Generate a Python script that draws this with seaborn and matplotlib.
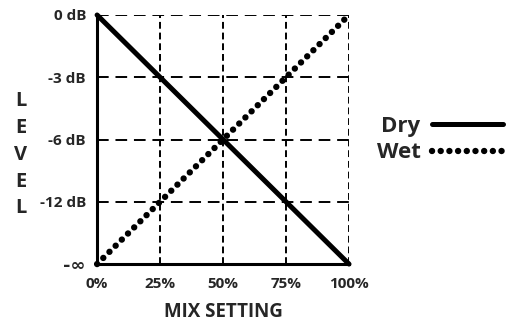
import matplotlib
matplotlib.use("Agg")
import matplotlib.pyplot as plt
import seaborn as sns
import pandas as pd

# mix setting (%) and level index for each series
mix = [0, 25, 50, 75, 100]
dry_level = [4, 3, 2, 1, 0]
wet_level = [0, 1, 2, 3, 4]
level_labels = ["-\u221e", "-12 dB", "-6 dB", "-3 dB", "0 dB"]
mix_labels = ["0%", "25%", "50%", "75%", "100%"]


def create_figure(df):
    sns.set_style("white")
    plt.rcParams["font.family"] = ["Open Sans", "DejaVu Sans"]
    fig = plt.figure(figsize=(5.11, 3.26), dpi=100)
    ax = fig.add_axes([0.190, 0.190, 0.493, 0.764])

    sns.lineplot(data=df, x="mix", y="dry", color="black", linewidth=3.6,
                 solid_capstyle="round", label="Dry", ax=ax, clip_on=False, zorder=5)
    sns.lineplot(data=df, x="mix", y="wet", color="black", linewidth=4.6,
                 linestyle=(0, (0.01, 1.35)), dash_capstyle="round",
                 label="Wet", ax=ax, clip_on=False, zorder=5)

    ax.set_xlim(0, 100)
    ax.set_ylim(0, 4)
    ax.set_xticks(mix)
    ax.set_xticklabels(mix_labels, fontsize=11, fontweight="bold")
    ax.set_yticks(range(len(level_labels)))
    ax.set_yticklabels(level_labels, fontsize=11, fontweight="bold")
    # the infinity sign is drawn large in the original
    inf_label = ax.get_yticklabels()[0]
    inf_label.set_fontfamily(["DejaVu Sans"])
    inf_label.set_fontsize(13)
    ax.tick_params(axis="x", length=0, pad=9)
    ax.tick_params(axis="y", length=4, width=1.5, color="black", pad=4)

    ax.xaxis.grid(True, color="black", linewidth=1.4, linestyle=(0, (3.5, 2)))
    ax.yaxis.grid(True, color="black", linewidth=1.4, linestyle=(0, (6, 3.5)))

    for side in ["left", "bottom"]:
        ax.spines[side].set_color("black")
        ax.spines[side].set_linewidth(2.2)
    ax.spines["top"].set_visible(False)
    ax.spines["right"].set_visible(False)

    ax.set_xlabel("MIX SETTING", fontsize=13.5, fontweight="bold", labelpad=8)
    ax.set_ylabel("")
    fig.text(0.04, 0.525, "L\nE\nV\nE\nL", fontsize=14.5, fontweight="bold",
             ha="center", va="center", linespacing=1.45)

    leg = ax.legend(loc="center left", bbox_to_anchor=(1.03, 0.5), frameon=False,
                    markerfirst=False, fontsize=16, handlelength=3.2,
                    handletextpad=0.5, labelspacing=0.25)
    for t in leg.get_texts():
        t.set_fontweight("bold")
    return fig


def main():
    df = pd.DataFrame({"mix": mix, "dry": dry_level, "wet": wet_level})
    fig = create_figure(df)
    fig.savefig("out.png", dpi=100)
    plt.close(fig)


if __name__ == "__main__":
    main()
